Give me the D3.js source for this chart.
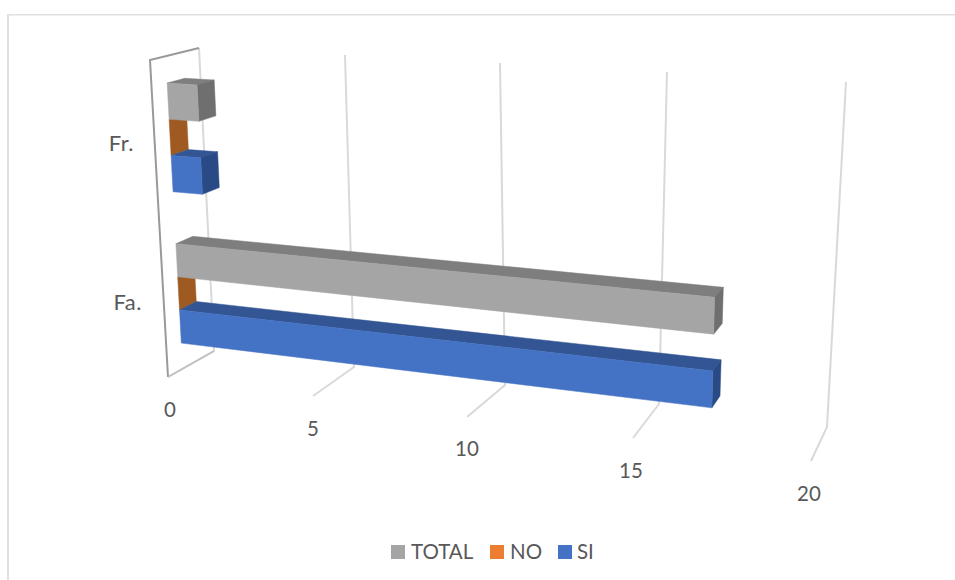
<!DOCTYPE html>
<html><head><meta charset="utf-8">
<style>html,body{margin:0;padding:0;background:#fff}svg{display:block}text{font-family:Lato,"Open Sans",sans-serif;fill:#595959}</style>
<script src="https://cdn.jsdelivr.net/npm/d3@7"></script></head>
<body><svg id="c" width="955" height="580"></svg>
<script>
const categories = ['Fr.', 'Fa.'];
const seriesNames = ['TOTAL', 'NO', 'SI'];
const totalValues = [1, 17];
const noValues = [0, 0];
const siValues = [1, 17];
const valueTicks = [0, 5, 10, 15, 20];

const colors = {
  TOTAL: {front:'#a5a5a5', top:'#7e7e7e', side:'#6f6f6f', key:'#a5a5a5'},
  NO:    {front:'#ed7d31', top:'#b15f25', side:'#9e5a20', key:'#ed7d31'},
  SI:    {front:'#4472c4', top:'#335593', side:'#2a4a85', key:'#4472c4'}
};
const valuesBy = {TOTAL: totalValues, NO: noValues, SI: siValues};

// perspective frame of the 3D box: each corner edge is a scale over the value axis
const edge = (xs, ys) => ({x:d3.scaleLinear().domain(valueTicks).range(xs), y:d3.scaleLinear().domain(valueTicks).range(ys)});
const backTop  = edge([199,345,500,667,846],[48,55,63,72,82]);
const backBot  = edge([214,354,505,659,827],[351,367,385,404,427]);
const frontBot = edge([168,313,467,633,811],[377,396,417,438,461]);
const frontTop = edge([150,302,461,636,822],[60,69,79,90,102]);
const depth = d3.scaleLinear().domain([0,1]).range([0.32,0.68]);
// foreshortening of the category axis towards the bottom of the box
const warp = d3.scaleLinear().domain([0,0.6,0.95,1.03]).range([0,0.6,0.92,0.98]);

function project(v,h,d){
  const L=(a,b,t)=>a+(b-a)*t;
  const w=warp(h);
  const tx=L(frontTop.x(v),backTop.x(v),d), ty=L(frontTop.y(v),backTop.y(v),d);
  const bx=L(frontBot.x(v),backBot.x(v),d), by=L(frontBot.y(v),backBot.y(v),d);
  return [L(tx,bx,w),L(ty,by,w)];
}
const catScale = d3.scaleBand().domain(categories).range([0.003,1.031]);
const serScale = d3.scaleBand().domain(seriesNames).range([0,catScale.bandwidth()]).paddingOuter(0.716).paddingInner(0);

const svg = d3.select('#c');
svg.append('rect').attr('x',7).attr('y',14).attr('width',948).attr('height',1.5).attr('fill','#e0e0e0');
svg.append('rect').attr('x',7).attr('y',14).attr('width',2).attr('height',566).attr('fill','#e0e0e0');

const line = d3.line();
const grid = svg.append('g').attr('fill','none').attr('stroke','#d9d9d9').attr('stroke-width',2);
grid.selectAll('path').data(valueTicks).join('path')
  .attr('d',v=>line([[frontBot.x(v),frontBot.y(v)],[backBot.x(v),backBot.y(v)],[backTop.x(v),backTop.y(v)]]));

const v0 = valueTicks[0];
svg.append('path').attr('fill','none').attr('stroke','#999999').attr('stroke-width',2)
  .attr('d',line([[frontBot.x(v0),frontBot.y(v0)],[frontTop.x(v0),frontTop.y(v0)],[backTop.x(v0),backTop.y(v0)]]));
svg.append('path').attr('fill','none').attr('stroke','#bfbfbf').attr('stroke-width',1.5)
  .attr('d',line([[frontBot.x(v0),frontBot.y(v0)],[backBot.x(v0),backBot.y(v0)]]));

const quad = (g,pts,fill)=>g.append('path').attr('d',line(pts)+'Z').attr('fill',fill).attr('stroke',fill).attr('stroke-width',0.5);
const bars = svg.append('g');
categories.forEach((c,ci)=>{
  ['NO','TOTAL','SI'].forEach(s=>{
    const v=valuesBy[s][ci], col=colors[s];
    const h0=catScale(c)+serScale(s), h1=h0+serScale.bandwidth();
    const d0=depth(0), d1=depth(1);
    if(v>0){
      quad(bars,[project(0,h0,d0),project(v,h0,d0),project(v,h0,d1),project(0,h0,d1)],col.top);
    }
    quad(bars,[project(v,h0,d0),project(v,h0,d1),project(v,h1,d1),project(v,h1,d0)],col.side);
    if(v>0){
      quad(bars,[project(0,h0,d0),project(v,h0,d0),project(v,h1,d0),project(0,h1,d0)],col.front);
    }
  });
});

svg.append('g').selectAll('text').data(valueTicks).join('text')
  .attr('x',v=>frontBot.x(v)+[2,0,0,-2,-2][valueTicks.indexOf(v)])
  .attr('y',v=>frontBot.y(v)+[40,40,39,40,40][valueTicks.indexOf(v)])
  .attr('text-anchor','middle').attr('font-size',20.5).text(v=>v);

const catLabelY = {'Fr.':151,'Fa.':310};
const catLabelX = {'Fr.':134,'Fa.':142};
svg.append('g').selectAll('text').data(categories).join('text')
  .attr('x',c=>catLabelX[c]).attr('y',c=>catLabelY[c]).attr('text-anchor','end')
  .attr('font-size',22).attr('letter-spacing',0.5).text(c=>c);

const legend = [['TOTAL',391,411],['NO',490,510],['SI',558,577]];
const lg = svg.append('g');
lg.selectAll('rect').data(legend).join('rect').attr('x',d=>d[1]).attr('y',545).attr('width',14).attr('height',14).attr('fill',d=>colors[d[0]].key);
lg.selectAll('text').data(legend).join('text').attr('x',d=>d[2]).attr('y',559).attr('font-size',20.5).text(d=>d[0]);
</script></body></html>
